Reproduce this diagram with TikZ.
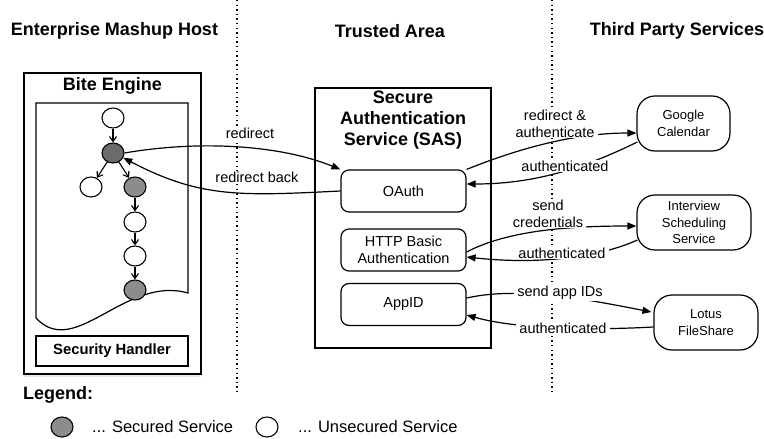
\documentclass[tikz,border=0pt]{standalone}
\usepackage{fontspec}
\setmainfont{Liberation Sans}
\usetikzlibrary{shapes.geometric,arrows.meta,shadows,calc}
\tikzset{
  title/.style={font=\bfseries\fontsize{18}{21}\selectfont, inner sep=0pt, align=center},
  box/.style={draw, line width=1.2pt, inner sep=0pt},
  sub/.style={draw, line width=1.2pt, rounded corners=8pt, minimum width=125pt, minimum height=42pt, inner sep=0pt, align=center, font=\fontsize{14.5}{17}\selectfont},
  svc/.style={draw, line width=1.2pt, rounded corners=18pt, minimum height=55pt, inner sep=0pt, align=center, font=\fontsize{13}{16.5}\selectfont},
  lbl/.style={fill=white, inner xsep=3pt, inner ysep=1pt, align=center, font=\fontsize{14.5}{17}\selectfont},
  dotline/.style={line width=1.4pt, dash pattern=on 1.4pt off 3.2pt},
  svcnode/.style={draw, ellipse, line width=1.1pt, minimum width=22pt, minimum height=20pt, inner sep=0pt},
  sec/.style={svcnode, fill=black!45},
  secdark/.style={svcnode, fill=black!58},
  unsec/.style={svcnode, fill=white},
  tarr/.style={line width=1.1pt, -{Straight Barb[length=5pt,width=7pt]}},
  conn/.style={line width=1.2pt, -{Triangle[length=9pt,width=7pt]}},
  legtext/.style={anchor=west, inner sep=0pt, font=\fontsize{16.5}{19}\selectfont}
}
\begin{document}
\begin{tikzpicture}[x=1pt,y=-1pt]
\useasboundingbox (0,0) rectangle (764,439);

% headers and separators
\node[title] (h1) at (114.5,31) {Enterprise Mashup Host};
\node[title] (h2) at (390,31) {Trusted Area};
\node[title] (h3) at (677,31) {Third Party Services};
\coordinate (d1a) at (237,0); \coordinate (d1b) at (237,392);
\coordinate (d2a) at (552,0); \coordinate (d2b) at (552,392);
\draw[dotline] (d1a) -- (d1b);
\draw[dotline] (d2a) -- (d2b);

% Bite Engine
\node[box, fill=white, minimum width=177pt, minimum height=301pt,
      drop shadow={shadow xshift=0pt, shadow yshift=-3pt, opacity=0.18}] (bite) at (112.5,223.5) {};
\node[title] (bitet) at (112.5,86) {Bite Engine};
\draw[line width=1.2pt, fill=white] (36,318) -- (36,103) -- (188,103) -- (188,293)
   .. controls (125,275) and (75,360) .. (36,318);
\node[box, minimum width=152pt, minimum height=30pt, font=\bfseries\fontsize{14.8}{17}\selectfont] (sech) at (112,351) {Security Handler};

% tree
\node[unsec] (n1) at (113,118) {};
\node[secdark] (n2) at (113,153) {};
\node[unsec] (n3) at (91,187) {};
\node[sec] (n4) at (135,187) {};
\node[unsec] (n5) at (135,222) {};
\node[unsec] (n6) at (135,256) {};
\node[sec] (n7) at (135,290) {};
\draw[tarr] (n1) -- (n2);
\draw[tarr] (n2) -- (n3);
\draw[tarr] (n2) -- (n4);
\draw[tarr] (n4) -- (n5);
\draw[tarr] (n5) -- (n6);
\draw[tarr] (n6) -- (n7);

% SAS
\node[box, fill=white, minimum width=176pt, minimum height=260pt] (sas) at (403,218) {};
\node[title] (sast) at (403,120) {Secure\\Authentication\\Service (SAS)};
\node[sub] (oauth) at (403.5,191) {OAuth};
\node[sub] (http) at (403.5,250) {HTTP Basic\\Authentication};
\node[sub] (appid) at (403.5,304.5) {AppID};

% services
\node[svc, minimum width=93pt] (google) at (683.5,123.5) {Google\\Calendar};
\node[svc, minimum width=114pt] (interview) at (694,222.5) {Interview\\Scheduling\\Service};
\node[svc, minimum width=104pt] (lotus) at (706,322.5) {Lotus\\FileShare};

% left connectors
\node[lbl] (l1) at (250,133) {redirect};
\node[lbl] (l2) at (257,177) {redirect back};
\draw[conn] (n2.east) .. controls (200,140) and (280,145) .. (oauth.north west);
\draw[conn] (oauth.west) .. controls (240,196) and (200,198) .. (n2.-25);

% right connectors
\draw[conn] (oauth.north east) .. controls (520,148) and (575,133) .. ($(google.west)+(0,9.5)$);
\draw[conn] ($(google.west)+(1,18.5)$) .. controls (590,165) and (540,184) .. ($(oauth.east)+(0,-7)$);
\draw[conn] ($(http.east)+(0,2)$) .. controls (505,232) and (560,226) .. ($(interview.west)+(0,3.5)$);
\draw[conn] ($(interview.west)+(1,17.5)$) .. controls (600,257) and (540,265) .. ($(http.east)+(0,7)$);
\draw[conn] ($(appid.east)+(0,-6.5)$) .. controls (520,286) and (590,300) .. ($(lotus.west)+(-2,-10.5)$);
\draw[conn] ($(lotus.west)+(0,4.5)$) .. controls (600,330) and (520,330) .. ($(appid.east)+(0,10.5)$);

% labels on the right connectors
\node[lbl] (l3) at (555,123.5) {redirect \&\\authenticate};
\node[lbl] (l4) at (565,166) {authenticated};
\node[lbl] (l5) at (548,213.5) {send\\credentials};
\node[lbl] (l6) at (562,253) {authenticated};
\node[lbl] (l7) at (560,293) {send app IDs};
\node[lbl] (l8) at (563,328) {authenticated};

% legend
\node[title, anchor=west] (leg) at (23,395) {Legend:};
\node[sec] (lg1) at (62,427) {};
\node[legtext] (lt1) at (92,427) {... Secured Service};
\node[unsec] (lg2) at (267,427) {};
\node[legtext] (lt2) at (298,427) {... Unsecured Service};
\end{tikzpicture}
\end{document}
